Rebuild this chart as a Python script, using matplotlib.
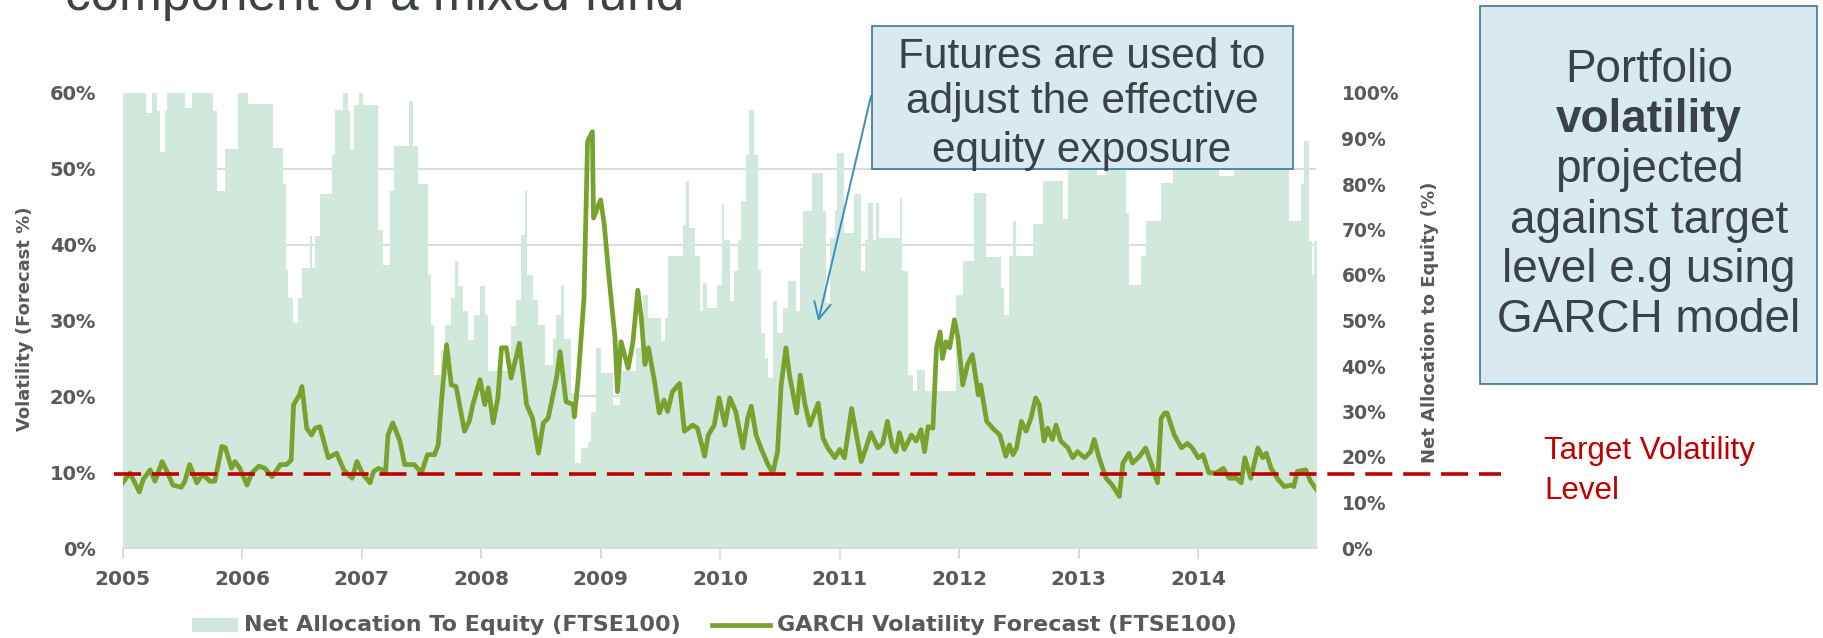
import matplotlib
matplotlib.use('Agg')
import matplotlib.pyplot as plt
from matplotlib.patches import Rectangle
from matplotlib.lines import Line2D
import numpy as np

# ---- data ----
year_ticks = [2005, 2006, 2007, 2008, 2009, 2010, 2011, 2012, 2013, 2014]
vol_ticks = [0, 10, 20, 30, 40, 50, 60]
alloc_ticks = [0, 10, 20, 30, 40, 50, 60, 70, 80, 90, 100]
target_vol = 9.7

# GARCH volatility forecast (FTSE100), % on left axis
garch_years = [
    2005.00, 2005.06, 2005.14, 2005.17, 2005.23, 2005.27, 2005.33, 2005.37, 2005.42, 2005.49,
    2005.52, 2005.56, 2005.62, 2005.67, 2005.73, 2005.77, 2005.83, 2005.86, 2005.91, 2005.94,
    2005.98, 2006.04, 2006.08, 2006.14, 2006.19, 2006.25, 2006.32, 2006.37, 2006.41, 2006.43,
    2006.48, 2006.50, 2006.54, 2006.58, 2006.61, 2006.65, 2006.72, 2006.79, 2006.85, 2006.92,
    2006.96, 2007.01, 2007.07, 2007.10, 2007.14, 2007.20, 2007.22, 2007.26, 2007.32,
    2007.36, 2007.44, 2007.50, 2007.55, 2007.61, 2007.64, 2007.67, 2007.71, 2007.75, 2007.79,
    2007.86, 2007.90, 2007.93, 2007.99, 2008.03, 2008.06, 2008.10, 2008.14, 2008.17, 2008.21,
    2008.25, 2008.29, 2008.32, 2008.38, 2008.43, 2008.48, 2008.52, 2008.56, 2008.63, 2008.66,
    2008.71, 2008.77, 2008.78, 2008.81, 2008.84, 2008.86, 2008.88, 2008.89, 2008.93, 2008.94,
    2008.98, 2009.00, 2009.03, 2009.07, 2009.12, 2009.14, 2009.17, 2009.23, 2009.27, 2009.31,
    2009.34, 2009.37, 2009.40, 2009.45, 2009.49, 2009.53, 2009.56, 2009.60, 2009.66, 2009.70,
    2009.77,
    2009.81, 2009.87, 2009.90, 2009.95, 2009.99, 2010.04, 2010.08, 2010.13, 2010.19, 2010.23,
    2010.26, 2010.30, 2010.34, 2010.40, 2010.44, 2010.48, 2010.51, 2010.55, 2010.58, 2010.64,
    2010.67, 2010.71, 2010.75, 2010.82, 2010.86, 2010.90, 2010.96, 2011.00, 2011.04, 2011.10,
    2011.14, 2011.18, 2011.22, 2011.26, 2011.32, 2011.36, 2011.40, 2011.44, 2011.47, 2011.50,
    2011.54, 2011.60, 2011.64, 2011.68, 2011.71, 2011.74, 2011.78, 2011.81, 2011.84, 2011.86,
    2011.89, 2011.92, 2011.96, 2011.99, 2012.03, 2012.07, 2012.11, 2012.16, 2012.18, 2012.23,
    2012.28, 2012.34, 2012.39, 2012.42, 2012.45, 2012.48, 2012.52, 2012.56, 2012.60, 2012.64,
    2012.67, 2012.71, 2012.74, 2012.78, 2012.81, 2012.85, 2012.91, 2012.95, 2012.99, 2013.05,
    2013.10, 2013.13, 2013.17, 2013.23, 2013.28, 2013.34, 2013.37, 2013.42, 2013.45, 2013.51,
    2013.56, 2013.61, 2013.66, 2013.69, 2013.72, 2013.74, 2013.80, 2013.86, 2013.91, 2013.95,
    2014.00, 2014.04, 2014.09, 2014.15, 2014.21, 2014.26, 2014.32, 2014.36, 2014.39, 2014.44,
    2014.50, 2014.54, 2014.57, 2014.61, 2014.67, 2014.72, 2014.78, 2014.80, 2014.83, 2014.90,
    2014.94, 2014.99,
]
garch_vol = [
    8.6, 9.9, 7.4, 9.0, 10.3, 8.8, 11.4, 10.1, 8.3, 8.0,
    8.8, 11.0, 8.6, 9.7, 8.8, 8.8, 13.4, 13.2, 10.5, 11.4,
    10.5, 8.3, 9.9, 10.8, 10.5, 9.4, 11.0, 11.0, 11.6, 18.9,
    20.2, 21.3, 15.8, 14.9, 15.8, 16.0, 11.9, 12.5, 10.3, 9.2,
    11.4, 9.7, 8.6, 10.1, 10.5, 10.1, 14.9, 16.5, 14.1,
    11.0, 11.0, 9.9, 12.3, 12.3, 13.6, 19.8, 26.8, 21.5, 21.3,
    15.4, 16.7, 18.9, 22.2, 18.9, 21.1, 16.5, 19.8, 26.4, 26.4,
    22.4, 25.0, 27.0, 18.9, 17.1, 12.5, 16.5, 17.1, 22.4, 25.9,
    19.3, 18.9, 17.3, 22.0, 28.5, 32.9, 46.6, 53.6, 54.9, 43.5,
    45.2, 45.9, 42.6, 35.6, 27.7, 20.6, 27.2, 23.7, 27.2, 34.0,
    30.3, 24.2, 26.4, 22.0, 17.8, 19.5, 18.0, 20.6, 21.7, 15.4,
    16.2,
    15.8, 12.1, 14.9, 16.2, 19.8, 16.2, 19.8, 18.0, 13.2, 17.1,
    18.7, 14.9, 13.2, 11.0, 9.9, 12.7, 21.5, 26.4, 22.8, 17.8,
    22.8, 18.9, 16.2, 19.1, 14.5, 13.2, 11.9, 13.0, 11.9, 18.4,
    14.9, 11.4, 13.2, 15.2, 13.2, 13.8, 16.7, 13.4, 12.7, 15.2,
    13.0, 14.9, 14.1, 15.6, 12.7, 16.0, 15.8, 26.4, 28.5, 25.0,
    27.2, 26.4, 30.1, 27.7, 21.5, 24.2, 25.5, 20.2, 21.5, 16.7,
    15.8, 14.9, 12.1, 13.6, 12.3, 13.2, 16.7, 15.4, 17.1, 19.8,
    18.9, 14.1, 15.8, 14.3, 16.2, 14.1, 13.2, 11.9, 12.7, 11.9,
    12.7, 14.3, 11.9, 9.2, 8.3, 6.8, 11.2, 12.5, 11.2, 12.1,
    13.2, 11.0, 8.6, 17.1, 17.8, 17.8, 14.9, 13.2, 13.8, 13.2,
    11.9, 12.3, 9.9, 9.9, 10.5, 9.2, 9.2, 8.6, 11.9, 9.2,
    13.2, 11.9, 12.5, 10.5, 9.0, 8.1, 8.3, 8.1, 10.1, 10.3,
    8.8, 7.7,
]

# Net allocation to equity (FTSE100), % on right axis, step changes
alloc_years = [
    2005.000, 2005.195, 2005.243, 2005.285, 2005.312, 2005.354, 2005.374, 2005.522, 2005.577, 2005.759,
    2005.787, 2005.856, 2005.968, 2006.052, 2006.261, 2006.345, 2006.367, 2006.386, 2006.423, 2006.470,
    2006.498, 2006.568, 2006.582, 2006.609, 2006.651, 2006.749, 2006.777, 2006.847, 2006.888, 2006.902,
    2006.936, 2006.980, 2007.008, 2007.139, 2007.181, 2007.237, 2007.271, 2007.399, 2007.432, 2007.470,
    2007.554, 2007.582, 2007.609, 2007.660, 2007.693, 2007.749, 2007.777, 2007.805, 2007.847, 2007.888,
    2007.939, 2007.986, 2008.028, 2008.061, 2008.251, 2008.293, 2008.335, 2008.363, 2008.385, 2008.432,
    2008.474, 2008.530, 2008.600, 2008.628, 2008.669, 2008.697, 2008.753, 2008.781, 2008.837, 2008.893,
    2008.921, 2008.962, 2009.004, 2009.102, 2009.158, 2009.297, 2009.353, 2009.395, 2009.506, 2009.534,
    2009.562, 2009.688, 2009.715, 2009.735, 2009.785, 2009.827, 2009.855, 2009.891, 2009.975, 2010.014,
    2010.036, 2010.086, 2010.114, 2010.148, 2010.176, 2010.218, 2010.245, 2010.287, 2010.315, 2010.343,
    2010.377, 2010.399, 2010.441, 2010.477, 2010.524, 2010.566, 2010.636, 2010.664, 2010.692, 2010.767,
    2010.859, 2010.887, 2010.915, 2010.957, 2010.979, 2011.035, 2011.119, 2011.180, 2011.208, 2011.236,
    2011.278, 2011.305, 2011.333, 2011.501, 2011.520, 2011.570, 2011.612, 2011.649, 2011.710, 2011.975,
    2012.031, 2012.128, 2012.226, 2012.350, 2012.378, 2012.420, 2012.453, 2012.476, 2012.615, 2012.699,
    2012.866, 2012.908, 2013.151, 2013.229, 2013.396, 2013.424, 2013.522, 2013.563, 2013.689, 2013.787,
    2014.177, 2014.303, 2014.763, 2014.861, 2014.888, 2014.925, 2014.953, 2014.972, 2014.990,
]
alloc_pct = [
    100, 95.6, 100, 96, 87, 96, 100, 96.7, 100, 96,
    78.4, 87.6, 100, 97.6, 88, 80, 61, 55, 49.5, 55,
    61.5, 68.5, 61.5, 68.5, 77.7, 86.4, 96.3, 100, 96, 87.5,
    97.4, 100, 97.4, 70, 62.3, 78.4, 88.4, 98.3, 88.4, 80,
    60, 49, 38, 43.6, 49, 55, 63, 57.5, 52, 45.8,
    51.3, 57.5, 51.3, 38.8, 48.7, 54.6, 68.9, 78.4, 60, 54.6,
    49, 40.3, 46, 51.3, 57.9, 46, 34, 18.7, 22, 23.4,
    30, 44, 38.5, 31.5, 38.8, 44, 55.7, 50.5, 45.4, 50.5,
    64.1, 71, 80.6, 70.3, 64.1, 52, 58.2, 52.7, 57.9, 75.5,
    67.8, 54.2, 60.8, 67.8, 76.2, 86.4, 96.3, 86.4, 61.2, 47.3,
    41.8, 37.4, 54.2, 47.3, 52.7, 58.6, 52, 65.9, 74, 82.4,
    74, 53.8, 68.1, 74, 86.8, 69.2, 77.7, 60.8, 67.8, 75.8,
    67.8, 75.8, 68.1, 76.9, 60.8, 38.1, 34.4, 39.2, 34.4, 55.7,
    63, 78, 64, 57.1, 51.3, 64.1, 71.8, 64.1, 71.1, 80.7,
    72.2, 83.2, 81.9, 83.2, 73.6, 57.9, 64.1, 71.8, 80.2, 83.2,
    81.7, 83.2, 71.8, 79.9, 89.4, 67.4, 60.1, 67.4, 67.4,
]

# ---- colours ----
FILL = '#D1E8DD'
GREEN = '#77A22D'
RED = '#C00000'
GRAY = '#595959'
GRID = '#D9D9D9'
BOX_FACE = '#D8E9F0'
BOX_EDGE = '#3B7893'
BOX_TEXT = '#3A4148'
ARROW = '#3A8FC0'

W, H = 1823, 638
fig = plt.figure(figsize=(W / 100, H / 100), dpi=100)


def fx(x):
    return x / W


def fy(y):
    return 1 - y / H


# ===== axes: allocation (bottom) + volatility (twin on top) =====
ax_a = fig.add_axes([fx(122.7), fy(548), fx(1316.5 - 122.7), 455 / H])
ax_v = ax_a.twinx()

ax_a.set_xlim(2005, 2014.99)
ax_a.set_ylim(0, 100)
ax_a.fill_between(alloc_years, alloc_pct, step='post', color=FILL, lw=0, zorder=2)

ax_a.yaxis.tick_right()
ax_a.set_yticks(alloc_ticks)
ax_a.set_yticklabels([f'{v}%' for v in alloc_ticks])
# gridlines follow the volatility ticks
ax_a.set_yticks([v / vol_ticks[-1] * 100 for v in vol_ticks[1:]], minor=True)
ax_a.grid(which='minor', axis='y', color=GRID, lw=1.3, zorder=0)
ax_a.set_axisbelow(True)
ax_a.tick_params(axis='y', which='both', length=0, pad=18, labelsize=13.5,
                 labelcolor=GRAY)
ax_a.set_xticks(year_ticks)
ax_a.set_xticklabels([str(y) for y in year_ticks])
ax_a.tick_params(axis='x', length=8, width=1.3, color=GRID, pad=8,
                 labelsize=14.5, labelcolor=GRAY)
for lab in ax_a.get_xticklabels() + ax_a.get_yticklabels():
    lab.set_fontweight('bold')
for s in ['left', 'right', 'top']:
    ax_a.spines[s].set_visible(False)
ax_a.spines['bottom'].set_color(GRID)
ax_a.spines['bottom'].set_linewidth(1.3)

ax_v.set_ylim(0, 60)
ax_v.yaxis.tick_left()
ax_v.set_yticks(vol_ticks)
ax_v.set_yticklabels([f'{v}%' for v in vol_ticks])
ax_v.tick_params(axis='y', length=0, pad=19, labelsize=14, labelcolor=GRAY)
for lab in ax_v.get_yticklabels():
    lab.set_fontweight('bold')
for s in ax_v.spines.values():
    s.set_visible(False)

ax_v.plot(garch_years, garch_vol, color=GREEN, lw=3.4, solid_joinstyle='round', zorder=3)

# target volatility line runs past the plot area to the label
ax_v.plot([2004.93, 2016.53], [target_vol, target_vol], color=RED, lw=2.6,
          dashes=(7.5, 3.0), clip_on=False, zorder=4)

# axis titles
fig.text(fx(25), fy(319), 'Volatility (Forecast %)', rotation=90, ha='center', va='center',
         fontsize=13, fontweight='bold', color=GRAY)
fig.text(fx(1430), fy(322), 'Net Allocation to Equity (%)', rotation=90, ha='center',
         va='center', fontsize=13, fontweight='bold', color=GRAY)

# ===== legend =====
fig.add_artist(Rectangle((fx(192), fy(632)), fx(46), 14 / H, transform=fig.transFigure,
                         facecolor=FILL, edgecolor='none'))
fig.text(fx(244), fy(625), 'Net Allocation To Equity (FTSE100)', ha='left', va='center',
         fontsize=16, fontweight='bold', color=GRAY)
fig.add_artist(Line2D([fx(712), fx(770)], [fy(625), fy(625)], transform=fig.transFigure,
                      color=GREEN, lw=3.4))
fig.text(fx(777), fy(625), 'GARCH Volatility Forecast (FTSE100)', ha='left', va='center',
         fontsize=16, fontweight='bold', color=GRAY)

# ===== slide title (cut off at top) =====
fig.text(fx(65), fy(10), 'component of a mixed fund', ha='left', va='baseline',
         fontsize=37, family='Liberation Sans', color='#3C4248')

# ===== callout: futures =====
fig.add_artist(Rectangle((fx(872), fy(169)), fx(1293 - 872), (169 - 26) / H,
                         transform=fig.transFigure, facecolor=BOX_FACE, edgecolor=BOX_EDGE,
                         lw=1.2))
for txt, y in [('Futures are used to', 57), ('adjust the effective', 102),
               ('equity exposure', 151)]:
    fig.text(fx(1082), fy(y), txt, ha='center', va='center', fontsize=30.5,
             family='Liberation Sans', color=BOX_TEXT)
ax_v.annotate('', xy=(2010.82, 29.9), xycoords='data',
              xytext=(fx(871), fy(96)), textcoords='figure fraction',
              arrowprops=dict(arrowstyle='->', color=ARROW, lw=1.4, mutation_scale=30,
                              shrinkA=0, shrinkB=0), zorder=5)

# ===== callout: portfolio volatility =====
fig.add_artist(Rectangle((fx(1480), fy(384)), fx(1817 - 1480), (384 - 6) / H,
                         transform=fig.transFigure, facecolor=BOX_FACE, edgecolor=BOX_EDGE,
                         lw=1.2))
for txt, y, wt in [('Portfolio', 70, 'normal'), ('volatility', 120, 'bold'),
                   ('projected', 170, 'normal'), ('against target', 221, 'normal'),
                   ('level e.g using', 270, 'normal'), ('GARCH model', 320, 'normal')]:
    fig.text(fx(1649), fy(y), txt, ha='center', va='center', fontsize=33, fontweight=wt,
             family='Liberation Sans', color=BOX_TEXT)

# ===== target label =====
fig.text(fx(1544), fy(451), 'Target Volatility', ha='left', va='center', fontsize=22.5,
         family='Liberation Sans', color=RED)
fig.text(fx(1544), fy(491), 'Level', ha='left', va='center', fontsize=22.5,
         family='Liberation Sans', color=RED)

fig.savefig('out.png', dpi=100, facecolor='white')
